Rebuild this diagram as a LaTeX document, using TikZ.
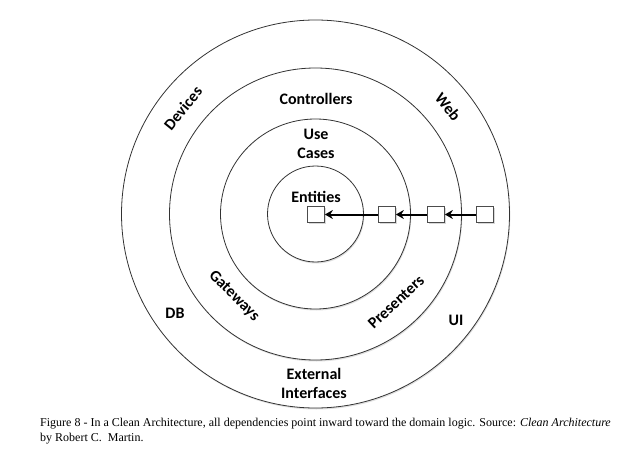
\documentclass[tikz,border=0pt]{standalone}
\usepackage{fontspec}
\setmainfont{Liberation Serif}
\newfontfamily\ringfont{Carlito}
\usetikzlibrary{arrows.meta,shadows}

\begin{document}
\begin{tikzpicture}[x=1pt,y=-1pt,
	ring/.style={draw=black!80, line width=0.8pt, circle, fill=white, inner sep=0pt,
		drop shadow={opacity=0.25, shadow xshift=0.8pt, shadow yshift=-1.5pt}},
	lbl/.style={font=\ringfont\bfseries\fontsize{16}{19}\selectfont, align=center, inner sep=0pt},
	dep/.style={draw=black!70, line width=0.7pt, fill=white, minimum width=17pt, minimum height=16pt, inner sep=0pt,
		drop shadow={opacity=0.3, shadow xshift=1.5pt, shadow yshift=-1.5pt}},
	deparrow/.style={line width=2pt, -{Stealth[length=8pt,width=9pt]}}]
		\useasboundingbox (0,0) rectangle (631,457);

		\node (outer)[ring, minimum size=388pt] at (315.5,214) {};
		\node (adapters)[ring, minimum size=292pt] at (315.5,214) {};
		\node (usecases)[ring, minimum size=190pt] at (315.5,214) {};
		\node (entities)[ring, minimum size=96pt] at (315.5,214) {};

		\node (devices)[lbl, rotate=51] at (183,108) {Devices};
		\node (web)[lbl, rotate=-51] at (448,107) {Web};
		\node (db)[lbl] at (175,313) {DB};
		\node (ui)[lbl] at (456,320) {UI};
		\node (extif)[lbl] at (314,383) {External\\Interfaces};

		\node (controllers)[lbl] at (316,99) {Controllers};
		\node (gateways)[lbl, rotate=-45] at (234,296) {Gateways};
		\node (presenters)[lbl, rotate=43] at (396,302) {Presenters};

		\node (usecaselbl)[lbl] at (316,144) {Use\\Cases};
		\node (entitylbl)[lbl] at (316,197) {Entities};

		\node (b1)[dep] at (316,214.5) {};
		\node (b2)[dep] at (387,214.5) {};
		\node (b3)[dep] at (436,214.5) {};
		\node (b4)[dep] at (485,214.5) {};

		\draw[deparrow] (b2)--(b1);
		\draw[deparrow] (b3)--(b2);
		\draw[deparrow] (b4)--(b3);

		\node (caption)[anchor=north west, align=left, inner sep=0pt, font=\fontsize{12}{15}\selectfont] at (40,418)
			{Figure 8 - In a Clean Architecture, all dependencies point inward toward the domain logic. Source: \textit{Clean Architecture}\\by Robert C.\ \ Martin.};
\end{tikzpicture}
\end{document}
